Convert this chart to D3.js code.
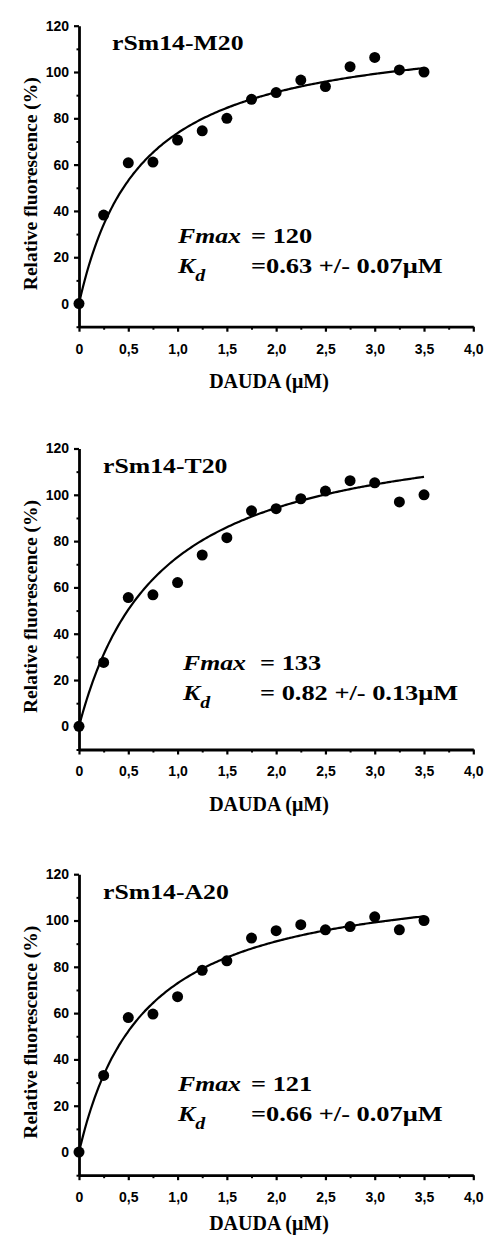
<!DOCTYPE html>
<html>
<head>
<meta charset="utf-8">
<script src="https://cdn.jsdelivr.net/npm/d3@7"></script>
<style>
  body { margin: 0; background: #fff; }
  svg { display: block; }
  .tick text { font-family: "Liberation Sans", Arial, sans-serif; font-weight: bold; font-size: 14px; fill: #000; }
  .axis path, .axis line { stroke: #000; }
  .serif { font-family: "Liberation Serif", "Times New Roman", serif; font-weight: bold; fill: #000; }
</style>
</head>
<body>
<div class="chart-container"></div>
<script>
// DAUDA concentration (µM)
const doses = [0, 0.25, 0.5, 0.75, 1.0, 1.25, 1.5, 1.75, 2.0, 2.25, 2.5, 2.75, 3.0, 3.25, 3.5];
// relative fluorescence (%)
const m20Values = [0, 38.2, 60.8, 61.1, 70.6, 74.6, 80.0, 88.2, 91.1, 96.5, 93.7, 102.3, 106.3, 100.9, 100];
const t20Values = [0, 27.6, 55.6, 56.8, 62.1, 74.0, 81.5, 93.1, 94.0, 98.3, 101.6, 106.1, 105.2, 96.9, 100];
const a20Values = [0, 33.1, 58.1, 59.6, 67.1, 78.5, 82.6, 92.4, 95.6, 98.2, 96.0, 97.4, 101.6, 96.0, 100];

const proteinNames = ['rSm14-M20', 'rSm14-T20', 'rSm14-A20'];
const fmaxValues = [120, 133, 121];
const kdValues = [0.63, 0.82, 0.66];
const fmaxLabels = ['= 120', '= 133', '= 121'];
const kdLabels = ['=0.63 +/- 0.07\u03bcM', '= 0.82 +/- 0.13\u03bcM', '=0.66 +/- 0.07\u03bcM'];

const xTicks = [0, 0.5, 1.0, 1.5, 2.0, 2.5, 3.0, 3.5, 4.0];
const xMinorTicks = [0.25, 0.75, 1.25, 1.75, 2.25, 2.75, 3.25, 3.75];
const yTicks = [0, 20, 40, 60, 80, 100, 120];
const yMinorTicks = [-10, 10, 30, 50, 70, 90, 110];

const seriesList = [m20Values, t20Values, a20Values];

const svg_width = 489;
const svg_height = 1235;
const panelTops = [25.7, 448.5, 874.2];
const panel_height = 301;
const margin_left = 79;
const plot_width = 394.3;

const svg = d3.select('.chart-container').append('svg')
  .attr('width', svg_width).attr('height', svg_height);

const xScale = d3.scaleLinear().domain([0, 4]).range([0, plot_width]);
const yScale = d3.scaleLinear().domain([-10, 120]).range([panel_height, 0]);

const formatX = d => d === 0 ? '0' : d3.format('.1f')(d).replace('.', ',');

seriesList.forEach((values, i) => {
  const g = svg.append('g')
    .attr('transform', `translate(${margin_left}, ${panelTops[i]})`);

  // fitted hyperbola from Fmax / Kd in the picture
  const fitX = d3.range(0, 3.5001, 0.02);
  const line = d3.line()
    .x(d => xScale(d))
    .y(d => yScale(fmaxValues[i] * d / (kdValues[i] + d)))
    .curve(d3.curveBasis);
  g.append('path')
    .datum(fitX)
    .attr('d', line)
    .attr('fill', 'none')
    .attr('stroke', '#000')
    .attr('stroke-width', 2.2);

  // points
  g.selectAll('.dot')
    .data(values.map((v, j) => ({x: doses[j], y: v})))
    .enter()
    .append('circle')
    .attr('class', 'dot')
    .attr('cx', d => xScale(d.x))
    .attr('cy', d => yScale(d.y))
    .attr('r', 5.5)
    .style('fill', '#000');

  // axes
  const xAxis = d3.axisBottom(xScale).tickValues(xTicks).tickFormat(formatX)
    .tickSizeInner(5).tickSizeOuter(0).tickPadding(12);
  const xAxisDraw = g.append('g').attr('class', 'x axis')
    .attr('transform', `translate(0, ${panel_height})`)
    .call(xAxis);
  xAxisDraw.select('.domain').attr('stroke-width', 2.8);
  xAxisDraw.selectAll('line').attr('stroke-width', 2.2);
  g.append('g').attr('class', 'x axis minor')
    .attr('transform', `translate(0, ${panel_height})`)
    .call(d3.axisBottom(xScale).tickValues(xMinorTicks).tickFormat('').tickSize(3))
    .call(a => a.select('.domain').remove())
    .selectAll('line').attr('stroke-width', 2);

  const yAxis = d3.axisLeft(yScale).tickValues(yTicks)
    .tickSizeInner(5).tickSizeOuter(0).tickPadding(5);
  const yAxisDraw = g.append('g').attr('class', 'y axis').call(yAxis);
  yAxisDraw.select('.domain').attr('stroke-width', 2.8);
  yAxisDraw.selectAll('line').attr('stroke-width', 2.2);
  g.append('g').attr('class', 'y axis minor')
    .call(d3.axisLeft(yScale).tickValues(yMinorTicks).tickFormat('').tickSize(2.5))
    .call(a => a.select('.domain').remove())
    .selectAll('line').attr('stroke-width', 2);

  // axis titles
  g.append('text').attr('class', 'serif')
    .attr('x', 269 - margin_left)
    .attr('y', panel_height + (i === 2 ? 55 : 61))
    .attr('text-anchor', 'middle')
    .style('font-size', '20px')
    .text('DAUDA (\u03bcM)');

  g.append('text').attr('class', 'serif')
    .attr('transform', `translate(${36.5 - margin_left}, ${158}) rotate(-90)`)
    .attr('text-anchor', 'middle')
    .style('font-size', '19.5px')
    .text('Relative fluorescence (%)');

  // panel title
  const titleX = i === 0 ? 112 : 103;
  g.append('text').attr('class', 'serif')
    .attr('transform', `translate(${titleX - margin_left}, ${24.3}) scale(1.17, 1)`)
    .style('font-size', '22px')
    .text(proteinNames[i]);

  // fit parameters
  const annX = (i === 1 ? 183 : 178) - margin_left;
  const eqX = (i === 1 ? 260 : 251) - margin_left;
  const line1 = i === 1 ? 221 : 217;
  const line2 = line1 + 30;
  g.append('text').attr('class', 'serif')
    .attr('transform', `translate(${annX}, ${line1}) scale(1.17, 1)`)
    .style('font-size', '22px').style('font-style', 'italic')
    .text('Fmax');
  g.append('text').attr('class', 'serif')
    .attr('transform', `translate(${eqX}, ${line1}) scale(1.2, 1)`)
    .style('font-size', '22px')
    .text(fmaxLabels[i]);
  const kText = g.append('text').attr('class', 'serif')
    .attr('transform', `translate(${annX}, ${line2}) scale(1.17, 1)`)
    .style('font-size', '22px').style('font-style', 'italic');
  kText.append('tspan').text('K');
  kText.append('tspan').attr('dy', 8).style('font-size', '17px').text('d');
  g.append('text').attr('class', 'serif')
    .attr('transform', `translate(${eqX}, ${line2}) scale(1.2, 1)`)
    .style('font-size', '22px')
    .text(kdLabels[i]);
});
</script>
</body>
</html>
